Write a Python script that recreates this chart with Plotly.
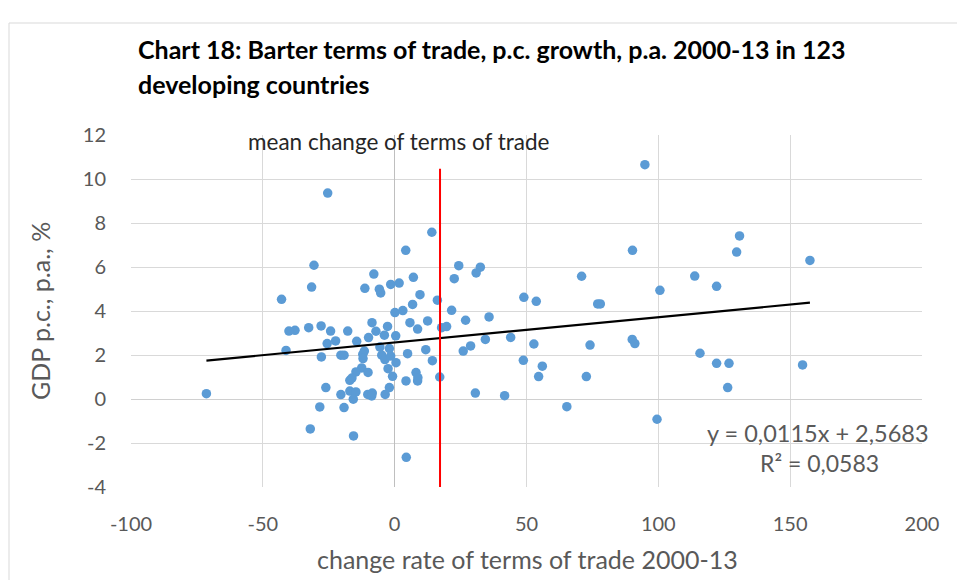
import plotly.graph_objects as go

# Change rate of terms of trade 2000-13 (x) and GDP p.c. growth p.a. (y)
tot_change = [
    -25.4, 14.1, 4.2, -30.6, -7.9, 7.1, -31.5, -11.3, -5.8, -5.3,
    -1.5, 1.7, 9.6, -42.9, 6.8, 16.2, 0.1, 3.1, -8.6, 5.8,
    12.5, -2.7, -7.1, -3.9, 0.4, 8.7, -9.9, -14.4, -17.8, -24.3,
    -27.9, -32.6, -37.8, -40.1, -25.6, -22.4, -41.2, -27.8, -20.4, -19.2,
    -11.5, -12.1, -12.0, -5.6, -2.0, -4.9, -3.7, -1.5, 0.5, 4.9,
    11.8, 14.3, 17.1, -2.5, -12.5, -14.7, -10.1, -0.8, 4.3, 8.1,
    8.7, 8.8, -17.0, -26.1, -2.0, -17.0, -14.7, -20.4, -10.2, -8.5,
    -8.7, -3.6, -15.7, -71.4, -28.4, -19.2, -32.0, -15.6, 4.4, 94.9,
    90.2, 24.3, 32.5, 30.9, 22.6, 70.9, 49.0, 53.7, 100.6, 77.0,
    78.0, 21.6, 26.9, 35.8, 17.8, 19.7, 26.0, 28.8, 34.4, 44.0,
    52.8, 74.1, 90.1, 91.1, 48.8, 56.0, 54.6, 72.7, 30.6, 41.7,
    65.3, 99.5, 130.8, 129.7, 157.5, 113.8, 122.1, 115.8, 122.1, 126.8,
    126.3, 154.7, -16.2,
]
gdp_growth = [
    9.36, 7.58, 6.76, 6.08, 5.68, 5.53, 5.09, 5.03, 4.99, 4.82,
    5.21, 5.27, 4.74, 4.53, 4.30, 4.49, 3.93, 4.02, 3.47, 3.47,
    3.55, 3.30, 3.08, 2.90, 2.87, 3.18, 2.79, 2.62, 3.09, 3.09,
    3.32, 3.24, 3.12, 3.09, 2.52, 2.64, 2.21, 1.91, 1.99, 1.99,
    2.18, 2.03, 1.84, 2.36, 2.29, 1.99, 1.79, 1.95, 1.65, 2.06,
    2.24, 1.74, 1.00, 1.38, 1.41, 1.23, 1.21, 1.03, 0.82, 1.20,
    0.82, 0.97, 0.85, 0.52, 0.52, 0.36, 0.32, 0.20, 0.21, 0.27,
    0.14, 0.21, -0.01, 0.24, -0.36, -0.39, -1.36, -1.68, -2.65, 10.65,
    6.76, 6.06, 5.99, 5.73, 5.47, 5.58, 4.62, 4.44, 4.94, 4.32,
    4.32, 4.03, 3.58, 3.73, 3.24, 3.29, 2.18, 2.41, 2.71, 2.80,
    2.50, 2.45, 2.71, 2.52, 1.76, 1.49, 1.02, 1.02, 0.27, 0.15,
    -0.35, -0.92, 7.41, 6.68, 6.30, 5.59, 5.12, 2.08, 1.62, 1.62,
    0.52, 1.55, 0.95,
]

# Linear trendline as printed on the chart
trend_slope = 0.0115
trend_intercept = 2.5683
trend_label = "y = 0,0115x + 2,5683"
r2_label = "R² = 0,0583"

# Mean change of terms of trade (red marker line)
mean_tot = 17.2
mean_line_top = 10.47

x_ticks = [-100, -50, 0, 50, 100, 150, 200]
x_ticklabels = ["-100", "-50", "0", "50", "100", "150", "200"]
y_ticks = [-4, -2, 0, 2, 4, 6, 8, 10, 12]
y_ticklabels = ["-4", "-2", "0", "2", "4", "6", "8", "10", "12"]

FONT = "Lato"
GREY = "#595959"

fig = go.Figure()

fig.add_trace(go.Scatter(
    x=tot_change, y=gdp_growth, mode="markers",
    marker=dict(color="#5B9BD5", size=9.5, line=dict(width=0)),
    showlegend=False, hoverinfo="x+y",
))

x_min, x_max = min(tot_change), max(tot_change)
fig.add_trace(go.Scatter(
    x=[x_min, x_max],
    y=[trend_slope * x_min + trend_intercept, trend_slope * x_max + trend_intercept],
    mode="lines", line=dict(color="black", width=2.2),
    showlegend=False, hoverinfo="skip",
))

fig.add_trace(go.Scatter(
    x=[mean_tot, mean_tot], y=[y_ticks[0], mean_line_top],
    mode="lines", line=dict(color="#FF0000", width=2),
    showlegend=False, hoverinfo="skip",
))

# body margin is removed in the page, so figure pixels == screen pixels
W, H = 957, 580
L, T = 131, 135
R = W - 922
B = H - 487
pw, ph = W - L - R, H - T - B

def px(sx):
    return (sx - L) / pw

def py(sy):
    return (H - B - sy) / ph

annotations = [
    dict(text="<b>Chart 18: Barter terms of trade, p.c. growth, p.a. 2000-13 in 123</b>",
         x=px(136), y=py(49), xanchor="left", yanchor="middle",
         font=dict(size=25, color="black", family=FONT)),
    dict(text="<b>developing countries</b>",
         x=px(136), y=py(84), xanchor="left", yanchor="middle",
         font=dict(size=25, color="black", family=FONT)),
    dict(text="mean change of terms of trade",
         x=px(399), y=py(141), xanchor="center", yanchor="middle",
         font=dict(size=22.5, color="#262626", family=FONT)),
    dict(text=trend_label,
         x=px(931), y=py(433), xanchor="right", yanchor="middle",
         font=dict(size=23.5, color=GREY, family=FONT)),
    dict(text=r2_label,
         x=px(881), y=py(463), xanchor="right", yanchor="middle",
         font=dict(size=23, color=GREY, family=FONT)),
    dict(text="GDP p.c., p.a., %",
         x=px(40), y=py(311), xanchor="center", yanchor="middle", textangle=-90,
         font=dict(size=25, color=GREY, family=FONT)),
    dict(text="change rate of terms of trade 2000-13",
         x=px(527), y=py(559), xanchor="center", yanchor="middle",
         font=dict(size=25, color=GREY, family=FONT)),
]
for a in annotations:
    a.update(xref="paper", yref="paper", showarrow=False)

border = dict(color="#d9d9d9", width=1)
fig.update_layout(
    width=W, height=H,
    margin=dict(l=L, r=R, t=T, b=B, autoexpand=False),
    paper_bgcolor="white", plot_bgcolor="white",
    font=dict(family=FONT, color=GREY),
    annotations=annotations,
    shapes=[
        dict(type="line", xref="paper", yref="paper",
             x0=px(9), x1=px(957), y0=py(23), y1=py(23), line=border, layer="below"),
        dict(type="line", xref="paper", yref="paper",
             x0=px(9), x1=px(9), y0=py(23), y1=py(580), line=border, layer="below"),
    ],
    xaxis=dict(
        range=[x_ticks[0], x_ticks[-1]], tickvals=x_ticks, ticktext=x_ticklabels,
        showgrid=True, gridcolor="#d9d9d9", gridwidth=1,
        zeroline=True, zerolinecolor="#bfbfbf", zerolinewidth=1,
        showline=False, ticks="outside", ticklen=19, tickcolor="rgba(0,0,0,0)",
        tickfont=dict(size=20, color=GREY, family=FONT), automargin=False,
    ),
    yaxis=dict(
        range=[y_ticks[0], y_ticks[-1]], tickvals=y_ticks, ticktext=y_ticklabels,
        showgrid=True, gridcolor="#d9d9d9", gridwidth=1,
        zeroline=True, zerolinecolor="#d0d0d0", zerolinewidth=1,
        showline=False, ticks="outside", ticklen=20, tickcolor="rgba(0,0,0,0)",
        tickfont=dict(size=20, color=GREY, family=FONT), automargin=False,
    ),
)

fig.write_html(
    "out.html",
    config={"displayModeBar": False},
    post_script="document.body.style.margin='0';document.body.style.overflow='hidden';",
)
